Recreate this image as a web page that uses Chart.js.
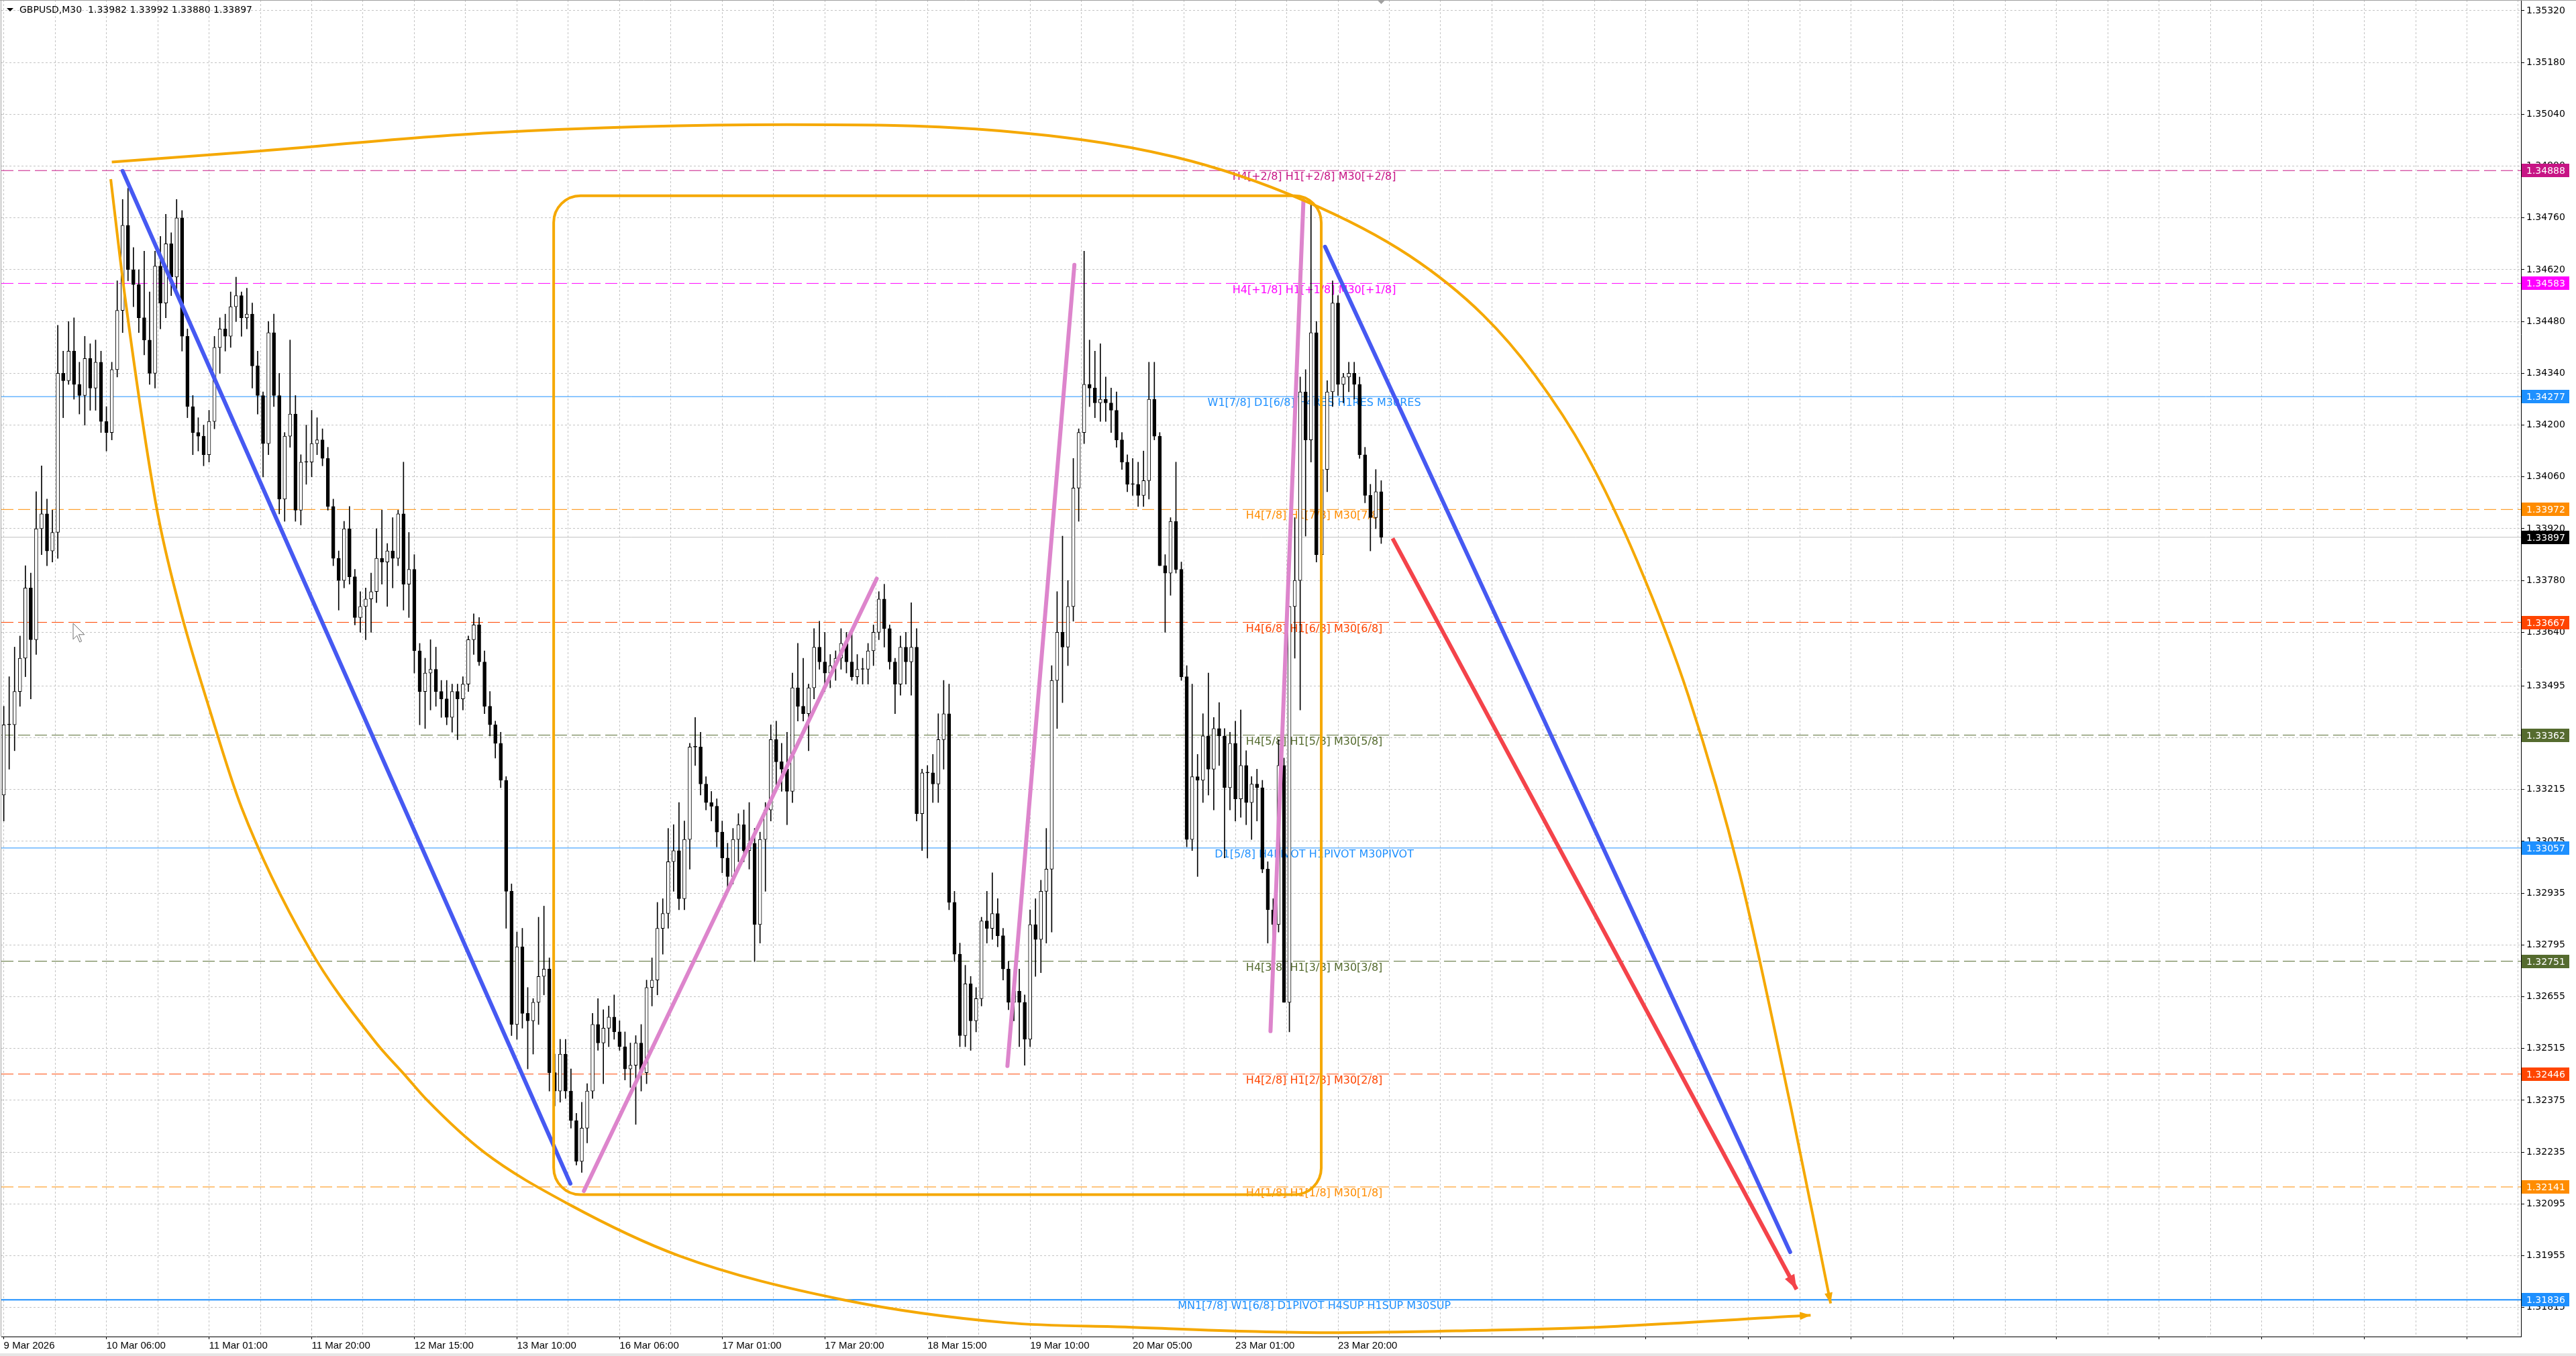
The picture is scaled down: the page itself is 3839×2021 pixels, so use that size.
<!DOCTYPE html>
<html><head><meta charset="utf-8">
<script src="https://cdn.jsdelivr.net/npm/chart.js@4.4.1/dist/chart.umd.min.js"></script>
<style>html,body{margin:0;padding:0;background:#fff;overflow:hidden}canvas{display:block}</style>
</head><body>
<canvas id="c" width="3839" height="2021" style="width:3839px;height:2021px"></canvas>
<script>
// ---------- DATA ----------
const symbolTitle = 'GBPUSD,M30  1.33982 1.33992 1.33880 1.33897';
const timeLabels = ['9 Mar 2026','10 Mar 06:00','11 Mar 01:00','11 Mar 20:00','12 Mar 15:00','13 Mar 10:00','16 Mar 06:00','17 Mar 01:00','17 Mar 20:00','18 Mar 15:00','19 Mar 10:00','20 Mar 05:00','23 Mar 01:00','23 Mar 20:00'];
const priceTicks = [1.35320,1.35180,1.35040,1.34900,1.34760,1.34620,1.34480,1.34340,1.34200,1.34060,1.33920,1.33780,1.33640,1.33495,1.33355,1.33215,1.33075,1.32935,1.32795,1.32655,1.32515,1.32375,1.32235,1.32095,1.31955,1.31815];

const opens = [
1.3320,1.3339,1.3339,1.3348,1.3357,1.3376,1.3362,1.3392,1.3396,1.3386,
1.3391,1.3434,1.3432,1.3440,1.3431,1.3428,1.3438,1.3430,1.3437,1.3421,
1.3418,1.3435,1.3451,1.3474,1.3462,1.3458,1.3449,1.3443,1.3434,1.3463,
1.3453,1.3469,1.3460,1.3476,1.3444,1.3425,1.3418,1.3417,1.3412,1.3421,
1.3441,1.3446,1.3444,1.3452,1.3455,1.3449,1.3450,1.3436,1.3428,1.3415,
1.3445,1.3428,1.3400,1.3417,1.3423,1.3397,1.3410,1.3410,1.3415,1.3416,
1.3411,1.3398,1.3384,1.3378,1.3392,1.3379,1.3368,1.3371,1.3373,1.3375,
1.3384,1.3383,1.3386,1.3384,1.3396,1.3377,1.3381,1.3359,1.3348,1.3353,
1.3354,1.3348,1.3346,1.3341,1.3348,1.3346,1.3350,1.3362,1.3366,1.3356,
1.3344,1.3339,1.3334,1.3324,1.3294,1.3258,1.3279,1.3261,1.3259,1.3264,
1.3271,1.3273,1.3245,1.3240,1.3250,1.3240,1.3232,1.3221,1.3230,1.3240,
1.3258,1.3253,1.3257,1.3260,1.3256,1.3252,1.3246,1.3247,1.3253,1.3245,
1.3268,1.3270,1.3284,1.3288,1.3302,1.3305,1.3292,1.3308,1.3333,1.3333,
1.3323,1.3318,1.3317,1.3310,1.3303,1.3298,1.3308,1.3312,1.3305,1.3307,
1.3285,1.3308,1.3316,1.3335,1.3329,1.3327,1.3321,1.3349,1.3344,1.3342,
1.3349,1.3360,1.3356,1.3353,1.3355,1.3357,1.3361,1.3356,1.3352,1.3354,
1.3354,1.3359,1.3364,1.3373,1.3365,1.3356,1.3350,1.3360,1.3356,1.3360,
1.3315,1.3326,1.3326,1.3323,1.3335,1.3342,1.3291,1.3277,1.3255,1.3269,
1.3259,1.3265,1.3286,1.3284,1.3288,1.3282,1.3273,1.3264,1.3267,1.3264,
1.3254,1.3285,1.3281,1.3294,1.3300,1.3351,1.3364,1.3360,1.3371,1.3403,
1.3418,1.3431,1.3430,1.3426,1.3427,1.3426,1.3424,1.3416,1.3410,1.3404,
1.3404,1.3401,1.3405,1.3427,1.3417,1.3382,1.3380,1.3394,1.3381,1.3352,
1.3308,1.3325,1.3324,1.3336,1.3327,1.3338,1.3336,1.3322,1.3334,1.3319,
1.3328,1.3318,1.3323,1.3322,1.3300,1.3289,1.3285,1.3328,1.3264,1.3371,
1.3378,1.3429,1.3416,1.3445,1.3385,1.3408,1.3429,1.3453,1.3431,1.3433,
1.3434,1.3431,1.3412,1.3401,1.3395,1.3402];
const highs = [
1.3344,1.3352,1.3360,1.3363,1.3382,1.3380,1.3402,1.3409,1.3400,1.3397,
1.3447,1.3440,1.3448,1.3449,1.3437,1.3444,1.3442,1.3443,1.3440,1.3425,
1.3437,1.3459,1.3481,1.3484,1.3468,1.3462,1.3467,1.3456,1.3467,1.3471,
1.3477,1.3472,1.3481,1.3478,1.3446,1.3428,1.3422,1.3420,1.3424,1.3444,
1.3449,1.3450,1.3456,1.3460,1.3456,1.3457,1.3453,1.3440,1.3429,1.3448,
1.3450,1.3434,1.3418,1.3443,1.3428,1.3412,1.3420,1.3424,1.3422,1.3419,
1.3414,1.3400,1.3386,1.3394,1.3398,1.3381,1.3375,1.3376,1.3380,1.3392,
1.3397,1.3388,1.3395,1.3397,1.3410,1.3391,1.3385,1.3361,1.3357,1.3362,
1.3360,1.3351,1.3351,1.3350,1.3350,1.3352,1.3363,1.3369,1.3368,1.3359,
1.3348,1.3340,1.3337,1.3325,1.3296,1.3283,1.3284,1.3268,1.3265,1.3287,
1.3290,1.3276,1.3250,1.3254,1.3254,1.3246,1.3234,1.3237,1.3242,1.3261,
1.3265,1.3262,1.3263,1.3266,1.3259,1.3256,1.3253,1.3255,1.3258,1.3270,
1.3276,1.3291,1.3292,1.3311,1.3312,1.3318,1.3313,1.3334,1.3341,1.3337,
1.3325,1.3321,1.3319,1.3313,1.3307,1.3311,1.3315,1.3316,1.3318,1.3311,
1.3310,1.3318,1.3339,1.3340,1.3334,1.3337,1.3353,1.3361,1.3357,1.3350,
1.3365,1.3367,1.3364,1.3358,1.3359,1.3365,1.3364,1.3364,1.3358,1.3357,
1.3361,1.3366,1.3375,1.3377,1.3366,1.3357,1.3363,1.3364,1.3372,1.3365,
1.3327,1.3328,1.3331,1.3342,1.3351,1.3350,1.3294,1.3280,1.3274,1.3271,
1.3268,1.3287,1.3294,1.3299,1.3292,1.3284,1.3275,1.3272,1.3273,1.3266,
1.3289,1.3292,1.3297,1.3311,1.3355,1.3375,1.3390,1.3378,1.3411,1.3419,
1.3467,1.3443,1.3440,1.3442,1.3433,1.3430,1.3429,1.3418,1.3412,1.3411,
1.3410,1.3413,1.3437,1.3437,1.3418,1.3385,1.3395,1.3410,1.3383,1.3355,
1.3350,1.3331,1.3342,1.3353,1.3341,1.3345,1.3338,1.3337,1.3340,1.3343,
1.3332,1.3325,1.3327,1.3324,1.3302,1.3292,1.3335,1.3330,1.3371,1.3395,
1.3433,1.3435,1.3480,1.3448,1.3410,1.3432,1.3459,1.3455,1.3434,1.3437,
1.3437,1.3433,1.3414,1.3404,1.3408,1.3405];
const lows = [
1.3313,1.3327,1.3332,1.3344,1.3352,1.3346,1.3358,1.3385,1.3382,1.3383,
1.3384,1.3422,1.3431,1.3427,1.3423,1.3420,1.3424,1.3424,1.3418,1.3413,
1.3416,1.3433,1.3445,1.3459,1.3452,1.3445,1.3439,1.3431,1.3430,1.3446,
1.3449,1.3455,1.3456,1.3440,1.3422,1.3412,1.3413,1.3409,1.3410,1.3419,
1.3434,1.3440,1.3441,1.3448,1.3444,1.3446,1.3430,1.3423,1.3406,1.3412,
1.3425,1.3396,1.3394,1.3414,1.3394,1.3393,1.3404,1.3406,1.3412,1.3409,
1.3397,1.3382,1.3370,1.3376,1.3377,1.3366,1.3364,1.3362,1.3364,1.3372,
1.3377,1.3371,1.3376,1.3382,1.3370,1.3368,1.3353,1.3339,1.3338,1.3343,
1.3344,1.3341,1.3339,1.3337,1.3335,1.3343,1.3348,1.3358,1.3355,1.3342,
1.3336,1.3330,1.3322,1.3284,1.3255,1.3254,1.3257,1.3246,1.3250,1.3258,
1.3266,1.3240,1.3236,1.3237,1.3238,1.3230,1.3220,1.3218,1.3226,1.3238,
1.3251,1.3242,1.3252,1.3254,1.3251,1.3243,1.3241,1.3231,1.3240,1.3242,
1.3263,1.3266,1.3277,1.3284,1.3294,1.3289,1.3289,1.3300,1.3328,1.3320,
1.3316,1.3313,1.3306,1.3299,1.3294,1.3296,1.3302,1.3302,1.3300,1.3275,
1.3280,1.3294,1.3313,1.3322,1.3321,1.3312,1.3318,1.3340,1.3340,1.3332,
1.3346,1.3354,1.3348,1.3349,1.3351,1.3354,1.3353,1.3351,1.3350,1.3350,
1.3350,1.3355,1.3362,1.3360,1.3354,1.3342,1.3347,1.3350,1.3347,1.3313,
1.3305,1.3303,1.3318,1.3318,1.3327,1.3289,1.3275,1.3252,1.3252,1.3251,
1.3256,1.3263,1.3280,1.3281,1.3279,1.3270,1.3262,1.3259,1.3252,1.3247,
1.3252,1.3271,1.3272,1.3280,1.3283,1.3338,1.3345,1.3355,1.3367,1.3394,
1.3415,1.3425,1.3422,1.3421,1.3421,1.3418,1.3414,1.3408,1.3402,1.3401,
1.3398,1.3398,1.3400,1.3416,1.3382,1.3364,1.3374,1.3380,1.3351,1.3306,
1.3305,1.3298,1.3318,1.3320,1.3316,1.3328,1.3303,1.3316,1.3313,1.3314,
1.3312,1.3308,1.3313,1.3299,1.3280,1.3280,1.3283,1.3264,1.3256,1.3357,
1.3343,1.3390,1.3410,1.3383,1.3378,1.3402,1.3425,1.3428,1.3426,1.3429,
1.3427,1.3411,1.3399,1.3386,1.3392,1.3388];
const closes = [
1.3339,1.3339,1.3348,1.3357,1.3376,1.3362,1.3392,1.3396,1.3386,1.3391,
1.3434,1.3432,1.3440,1.3431,1.3428,1.3438,1.3430,1.3437,1.3421,1.3418,
1.3435,1.3451,1.3474,1.3462,1.3458,1.3449,1.3443,1.3434,1.3463,1.3453,
1.3469,1.3460,1.3476,1.3444,1.3425,1.3418,1.3417,1.3412,1.3421,1.3441,
1.3446,1.3444,1.3452,1.3455,1.3449,1.3450,1.3436,1.3428,1.3415,1.3445,
1.3428,1.3400,1.3417,1.3423,1.3397,1.3410,1.3410,1.3415,1.3416,1.3411,
1.3398,1.3384,1.3378,1.3392,1.3379,1.3368,1.3371,1.3373,1.3375,1.3384,
1.3383,1.3386,1.3384,1.3396,1.3377,1.3381,1.3359,1.3348,1.3353,1.3354,
1.3348,1.3346,1.3341,1.3348,1.3346,1.3350,1.3362,1.3366,1.3356,1.3344,
1.3339,1.3334,1.3324,1.3294,1.3258,1.3279,1.3261,1.3259,1.3264,1.3271,
1.3273,1.3245,1.3240,1.3250,1.3240,1.3232,1.3221,1.3230,1.3240,1.3258,
1.3253,1.3257,1.3260,1.3256,1.3252,1.3246,1.3247,1.3253,1.3245,1.3268,
1.3270,1.3284,1.3288,1.3302,1.3305,1.3292,1.3308,1.3333,1.3333,1.3323,
1.3318,1.3317,1.3310,1.3303,1.3298,1.3308,1.3312,1.3305,1.3307,1.3285,
1.3308,1.3316,1.3335,1.3329,1.3327,1.3321,1.3349,1.3344,1.3342,1.3349,
1.3360,1.3356,1.3353,1.3355,1.3357,1.3361,1.3356,1.3352,1.3354,1.3354,
1.3359,1.3364,1.3373,1.3365,1.3356,1.3350,1.3360,1.3356,1.3360,1.3315,
1.3326,1.3326,1.3323,1.3335,1.3342,1.3291,1.3277,1.3255,1.3269,1.3259,
1.3265,1.3286,1.3284,1.3288,1.3282,1.3273,1.3264,1.3267,1.3264,1.3254,
1.3285,1.3281,1.3294,1.3300,1.3351,1.3364,1.3360,1.3371,1.3403,1.3418,
1.3431,1.3430,1.3426,1.3427,1.3426,1.3424,1.3416,1.3410,1.3404,1.3404,
1.3401,1.3405,1.3427,1.3417,1.3382,1.3380,1.3394,1.3381,1.3352,1.3308,
1.3325,1.3324,1.3336,1.3327,1.3338,1.3336,1.3322,1.3334,1.3319,1.3328,
1.3318,1.3323,1.3322,1.3300,1.3289,1.3285,1.3328,1.3264,1.3371,1.3378,
1.3429,1.3416,1.3445,1.3385,1.3408,1.3429,1.3453,1.3431,1.3433,1.3434,
1.3431,1.3412,1.3401,1.3395,1.3402,1.33897];

const currentPrice = 1.33897;
const levelPrices = [1.34888,1.34583,1.34277,1.33972,1.33667,1.33362,1.33057,1.32751,1.32446,1.32141,1.31836];
const levelTexts = [
 'H4[+2/8] H1[+2/8] M30[+2/8]',
 'H4[+1/8] H1[+1/8] M30[+1/8]',
 'W1[7/8] D1[6/8] H4RES H1RES M30RES',
 'H4[7/8] H1[7/8] M30[7/8]',
 'H4[6/8] H1[6/8] M30[6/8]',
 'H4[5/8] H1[5/8] M30[5/8]',
 'D1[5/8] H4PIVOT H1PIVOT M30PIVOT',
 'H4[3/8] H1[3/8] M30[3/8]',
 'H4[2/8] H1[2/8] M30[2/8]',
 'H4[1/8] H1[1/8] M30[1/8]',
 'MN1[7/8] W1[6/8] D1PIVOT H4SUP H1SUP M30SUP'];
const levelLabelBar = 242.6;

// drawings: [bar index, price]
const blueTrend1 = [[22.0,1.34887],[104.9,1.32150]];
const blueTrend2 = [[244.6,1.34682],[330.7,1.31965]];
const redArrow   = [[257.1,1.33894],[331.9,1.31864]];
const pinkLine1  = [[107.4,1.32130],[161.6,1.33785]];
const pinkLine2  = [[185.8,1.32468],[198.2,1.34633]];
const pinkLine3  = [[234.5,1.32562],[240.6,1.34807]];
const boxCorners = [[101.8,1.34820],[243.9,1.32120]];
const arcTop = [[20.0,1.34911],[44,1.34937],[90,1.34990],[145,1.35012],[182,1.34998],[216.7,1.34925],[240.7,1.34807],[260.2,1.34658],[273.9,1.34497],[283.4,1.34336],[292.9,1.34122],[302.4,1.33832],[311.9,1.33467],[321.4,1.32985],[330.9,1.32352],[338.2,1.31826]];
const arcBottom = [[19.8,1.34865],[22.5,1.34540],[28.3,1.33976],[32.4,1.33716],[38.2,1.33427],[44.0,1.33167],[56.4,1.32790],[68.9,1.32531],[74.1,1.32446],[78.4,1.32375],[88.9,1.32235],[104.5,1.32095],[125.0,1.31955],[155.4,1.31836],[185.6,1.31774],[208.3,1.31762],[231.8,1.31750],[244.9,1.31747],[272.6,1.31753],[293.7,1.31761],[334.5,1.31794]];

// ---------- STYLE ----------
const levelColors = ['#C71585','#FF00FF','#1E90FF','#FF8C00','#FF4500','#556B2F','#1E90FF','#556B2F','#FF4500','#FF8C00','#1E90FF'];
const levelSolid  = [false,false,true,false,false,false,true,false,false,false,true];
const levelWidth  = [1,1,1,1,1,1,1,1,1,1,2];
const ORANGE = '#F5A800', BLUE = '#4659F2', RED = '#F4434A', PINK = '#DD85CC';
const barsPerLabel = 19;
const xMin = -0.45, xMax = 466.0, yMin = 1.317366, yMax = 1.353490;

Chart.defaults.font.family = 'DejaVu Sans';

const pts = a => a.map(([x, y]) => ({x, y}));
const xTicks = [];
for (let v = 0; v <= xMax; v += barsPerLabel / 2) xTicks.push(v);

const datasets = [];
levelPrices.forEach((p, i) => datasets.push({
  type: 'line', data: [{x: xMin, y: p}, {x: xMax, y: p}], borderColor: levelColors[i],
  borderWidth: levelWidth[i], borderDash: levelSolid[i] ? [] : [18, 7], pointRadius: 0, order: 20
}));
datasets.push({type: 'line', data: [{x: xMin, y: currentPrice}, {x: xMax, y: currentPrice}], borderColor: '#C0C0C0', borderWidth: 1, pointRadius: 0, order: 20});
datasets.push({type: 'bar', data: opens.map((o, i) => ({x: i, y: [lows[i], highs[i]]})), backgroundColor: '#000', borderWidth: 0, barThickness: 1, grouped: false, order: 9});
datasets.push({type: 'bar', data: opens.map((o, i) => ({x: i, y: [Math.min(o, closes[i]), Math.max(o, closes[i])]})),
  backgroundColor: opens.map((o, i) => closes[i] > o ? '#FFFFFF' : '#000000'), borderColor: '#000', borderWidth: 1,
  borderSkipped: false, barThickness: 5, minBarLength: 1, grouped: false, order: 8});
[[blueTrend1, BLUE], [blueTrend2, BLUE], [pinkLine1, PINK], [pinkLine2, PINK], [pinkLine3, PINK]].forEach(([a, c]) => datasets.push({
  type: 'line', data: pts(a), borderColor: c, borderWidth: 6, borderCapStyle: 'round', pointRadius: 0, tension: 0, order: 3}));
datasets.push({type: 'line', data: pts(redArrow), borderColor: RED, borderWidth: 6, borderCapStyle: 'butt', pointRadius: 0, order: 3});
[arcTop, arcBottom].forEach(a => datasets.push({type: 'line', data: pts(a), borderColor: ORANGE, borderWidth: 4, pointRadius: 0,
  cubicInterpolationMode: 'monotone', order: 2}));

function arrowHead(ctx, xs, ys, a, color, len, half) {
  const n = a.length;
  const x0 = xs.getPixelForValue(a[n-2][0]), y0 = ys.getPixelForValue(a[n-2][1]);
  const x1 = xs.getPixelForValue(a[n-1][0]), y1 = ys.getPixelForValue(a[n-1][1]);
  const t = Math.atan2(y1 - y0, x1 - x0), c = Math.cos(t), s = Math.sin(t);
  ctx.fillStyle = color;
  ctx.beginPath();
  ctx.moveTo(x1, y1);
  ctx.lineTo(x1 - len * c + half * s, y1 - len * s - half * c);
  ctx.lineTo(x1 - len * c - half * s, y1 - len * s + half * c);
  ctx.closePath();
  ctx.fill();
}

const annot = {
  id: 'annot',
  beforeDatasetsDraw(chart) {
    const {ctx, chartArea: a, scales: {x, y}} = chart;
    ctx.save();
    ctx.beginPath(); ctx.rect(a.left, a.top, a.right - a.left, a.bottom - a.top); ctx.clip();
    ctx.font = '16px "DejaVu Sans"'; ctx.textAlign = 'center'; ctx.textBaseline = 'middle';
    levelPrices.forEach((p, i) => {
      ctx.fillStyle = levelColors[i];
      ctx.fillText(levelTexts[i], x.getPixelForValue(levelLabelBar), y.getPixelForValue(p) + 10);
    });
    ctx.restore();
  },
  afterDatasetsDraw(chart) {
    const {ctx, chartArea: a, scales: {x, y}} = chart;
    ctx.save();
    ctx.beginPath(); ctx.rect(a.left, a.top, a.right - a.left, a.bottom - a.top); ctx.clip();
    const bx1 = x.getPixelForValue(boxCorners[0][0]), by1 = y.getPixelForValue(boxCorners[0][1]);
    const bx2 = x.getPixelForValue(boxCorners[1][0]), by2 = y.getPixelForValue(boxCorners[1][1]);
    ctx.strokeStyle = ORANGE; ctx.lineWidth = 4;
    ctx.beginPath(); ctx.roundRect(bx1, by1, bx2 - bx1, by2 - by1, 40); ctx.stroke();
    arrowHead(ctx, x, y, redArrow, RED, 22, 8);
    arrowHead(ctx, x, y, arcTop, ORANGE, 16, 6);
    arrowHead(ctx, x, y, arcBottom, ORANGE, 16, 6);
    ctx.restore();
  },
  afterDraw(chart) {
    const {ctx, chartArea: a, scales: {x, y}} = chart;
    ctx.save();
    const box = (p, color) => {
      const py = Math.round(y.getPixelForValue(p));
      ctx.fillStyle = color; ctx.fillRect(a.right + 1, py - 10, 71, 20);
      ctx.fillStyle = '#FFFFFF'; ctx.font = '14px "DejaVu Sans"'; ctx.textAlign = 'left'; ctx.textBaseline = 'middle';
      ctx.fillText(p.toFixed(5), a.right + 8, py + 1);
    };
    levelPrices.forEach((p, i) => box(p, levelColors[i]));
    box(currentPrice, '#000000');
    // header
    ctx.fillStyle = '#000';
    ctx.beginPath(); ctx.moveTo(10, 12); ctx.lineTo(20, 12); ctx.lineTo(15, 17); ctx.closePath(); ctx.fill();
    ctx.font = '14px "DejaVu Sans"'; ctx.textAlign = 'left'; ctx.textBaseline = 'middle';
    ctx.fillText(symbolTitle, 29, 15);
    // shift marker
    const mx = x.getPixelForValue(opens.length - 1);
    ctx.fillStyle = '#A0A0A0';
    ctx.beginPath(); ctx.moveTo(mx - 6, 0); ctx.lineTo(mx + 6, 0); ctx.lineTo(mx, 6); ctx.closePath(); ctx.fill();
    // mouse cursor
    const cx = 109, cy = 929, k = 1.4;
    const cur = [[0,0],[0,17],[4,13],[7,20],[9,19],[6,12],[12,12]];
    ctx.beginPath(); cur.forEach(([u, v], i) => i ? ctx.lineTo(cx + u * k, cy + v * k) : ctx.moveTo(cx + u * k, cy + v * k)); ctx.closePath();
    ctx.fillStyle = '#FFFFFF'; ctx.fill(); ctx.strokeStyle = '#707070'; ctx.lineWidth = 1; ctx.stroke();
    // frame
    ctx.strokeStyle = '#A0A0A0'; ctx.lineWidth = 1;
    ctx.beginPath(); ctx.moveTo(0, 0.5); ctx.lineTo(3839, 0.5); ctx.moveTo(1.5, 0); ctx.lineTo(1.5, a.bottom); ctx.stroke();
    ctx.fillStyle = '#E6E6E6'; ctx.fillRect(0, 2017, 3839, 4);
    ctx.restore();
  }
};

new Chart(document.getElementById('c'), {
  type: 'bar',
  data: {datasets},
  options: {
    responsive: false, animation: false, devicePixelRatio: 1,
    layout: {padding: {left: 2, top: 0, right: 0, bottom: 0}},
    plugins: {legend: {display: false}, tooltip: {enabled: false}},
    scales: {
      x: {
        type: 'linear', min: xMin, max: xMax, offset: false,
        grid: {offset: false, color: '#C4C4C4', lineWidth: 1, tickLength: 4, drawTicks: true,
               tickColor: c => (c.index % 2 === 0 ? '#000' : 'rgba(0,0,0,0)')},
        border: {display: true, color: '#000', width: 1, dash: [3, 3]},
        ticks: {autoSkip: false, maxRotation: 0, minRotation: 0, align: 'start', padding: 1, color: '#000',
                font: {family: 'Liberation Sans', size: 15},
                callback: (v, i) => (i % 2 === 0 ? (timeLabels[i / 2] || '') : '')},
        afterBuildTicks: s => { s.ticks = xTicks.map(v => ({value: v})); },
        afterFit: s => { s.height = 29; s.paddingLeft = 0; s.paddingRight = 0; }
      },
      y: {
        type: 'linear', position: 'right', min: yMin, max: yMax, beginAtZero: false,
        grid: {color: '#C4C4C4', lineWidth: 1, tickLength: 5, tickColor: '#000'},
        border: {display: true, color: '#000', width: 1, dash: [3, 3]},
        ticks: {autoSkip: false, padding: 3, color: '#000', font: {family: 'DejaVu Sans', size: 14},
                callback: v => Number(v).toFixed(5)},
        afterBuildTicks: s => { s.ticks = priceTicks.map(v => ({value: v})); },
        afterFit: s => { s.width = 82; s.paddingTop = 0; s.paddingBottom = 0; }
      }
    }
  },
  plugins: [annot]
});
</script>
</body></html>
